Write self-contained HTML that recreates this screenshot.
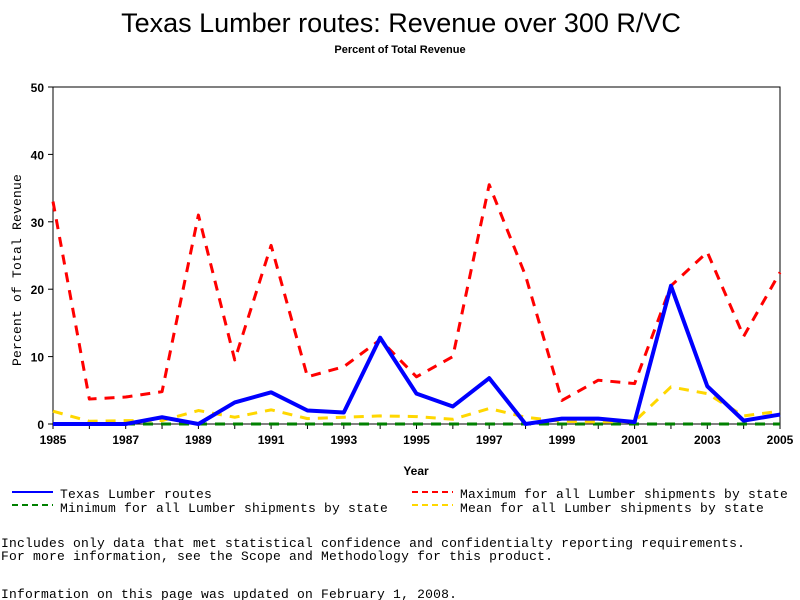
<!DOCTYPE html>
<html><head><meta charset="utf-8"><style>
html,body{margin:0;padding:0;background:#fff;}
svg{display:block;}
text{font-family:"Liberation Sans",sans-serif;fill:#000;}
.mono{font-family:"Liberation Mono",monospace;font-size:13px;letter-spacing:0.2px;}
</style></head><body>
<svg id="chart" width="800" height="600">
<text x="401" y="32" text-anchor="middle" font-size="27">Texas Lumber routes: Revenue over 300 R/VC</text>
<text x="400" y="53" text-anchor="middle" font-size="11" font-weight="bold">Percent of Total Revenue</text>
<rect x="53" y="87" width="727" height="337" fill="none" stroke="#000" stroke-width="1"/>
<g id="yaxis"></g>
<g id="xaxis"></g>
<text transform="translate(21,270) rotate(-90)" text-anchor="middle" font-size="12" letter-spacing="1.5" class="mono">Percent of Total Revenue</text>
<text x="416" y="475" text-anchor="middle" font-size="12" font-weight="bold">Year</text>
<g id="series"></g>
<g>
<g><line x1="12" y1="492" x2="53" y2="492" stroke="#0000ff" stroke-width="2"/><text x="60" y="498" class="mono">Texas Lumber routes</text></g>
<g><line x1="412" y1="492" x2="453" y2="492" stroke="#ff0000" stroke-width="2" stroke-dasharray="6,4"/><text x="460" y="498" class="mono">Maximum for all Lumber shipments by state</text></g>
<g><line x1="12" y1="505" x2="53" y2="505" stroke="#008000" stroke-width="2" stroke-dasharray="6,4"/><text x="60" y="512" class="mono">Minimum for all Lumber shipments by state</text></g>
<g><line x1="412" y1="505" x2="453" y2="505" stroke="#ffd700" stroke-width="2" stroke-dasharray="6,4"/><text x="460" y="512" class="mono">Mean for all Lumber shipments by state</text></g>
</g>
<text x="1" y="547" class="mono">Includes only data that met statistical confidence and confidentialty reporting requirements.</text>
<text x="1" y="560" class="mono">For more information, see the Scope and Methodology for this product.</text>
<text x="1" y="598" class="mono">Information on this page was updated on February 1, 2008.</text>
</svg>
<script>
const years=[1985,1986,1987,1988,1989,1990,1991,1992,1993,1994,1995,1996,1997,1998,1999,2000,2001,2002,2003,2004,2005];
const texasValues=[0,0,0,1,0,3.2,4.7,2,1.7,12.8,4.5,2.6,6.8,0,0.8,0.8,0.3,20.5,5.6,0.5,1.4];
const maxValues=[33,3.7,4,4.8,31,9.5,26.5,7,8.5,12.5,7,10,35.5,22,3.5,6.5,6,20.5,25.5,13,22.5];
const minValues=[0,0,0,0,0,0,0,0,0,0,0,0,0,0,0,0,0,0,0,0,0];
const meanValues=[1.9,0.4,0.5,0.5,2,1,2.1,0.8,1,1.2,1.1,0.7,2.3,1,0.4,0.3,0.4,5.5,4.5,1.2,1.9];
const yTicks=[0,10,20,30,40,50];
const xTickLabels=[1985,1987,1989,1991,1993,1995,1997,1999,2001,2003,2005];
const NS="http://www.w3.org/2000/svg";
const X0=53,X1=780,Y0=424,Y1=87;
const xScale=v=>X0+(v-1985)/(2005-1985)*(X1-X0);
const yScale=v=>Y0-v/50*(Y0-Y1);
const yaxis=document.getElementById('yaxis'),xaxis=document.getElementById('xaxis'),series=document.getElementById('series');
function mk(tag,attrs){const e=document.createElementNS(NS,tag);for(const k in attrs)e.setAttribute(k,attrs[k]);return e;}
yTicks.forEach(t=>{
  const l=mk('line',{x1:X0-5,x2:X0,y1:yScale(t),y2:yScale(t),stroke:'#000'});
  
  
  yaxis.appendChild(l);
  const tx=mk('text',{x:X0-9,y:yScale(t)+5,'text-anchor':'end','font-size':'12','font-weight':'bold'});
  tx.textContent=t;
  
  
  yaxis.appendChild(tx);
});
years.forEach(y=>{
  const l=mk('line',{x1:xScale(y),x2:xScale(y),y1:Y0,y2:Y0+5,stroke:'#000'});
  
  
  xaxis.appendChild(l);
});
xTickLabels.forEach(y=>{
  const tx=mk('text',{x:xScale(y),y:Y0+20,'text-anchor':'middle','font-size':'12','font-weight':'bold'});
  tx.textContent=y;
  
  
  xaxis.appendChild(tx);
});
function draw(vals,color,dash,width,name){
  const pts=vals.map((v,i)=>xScale(years[i])+','+yScale(v)).join(' ');
  const p=mk('polyline',{points:pts,fill:'none',stroke:color,'stroke-width':width,'stroke-dasharray':dash,'stroke-linejoin':'round'});
  
  
  series.appendChild(p);
}
draw(minValues,'#008000','10,8',3,'minimum-line');
draw(meanValues,'#ffd700','10,8',3,'mean-line');
draw(maxValues,'#ff0000','10,8',3,'maximum-line');
draw(texasValues,'#0000ff','',4,'texas-line');
</script>
</body></html>
